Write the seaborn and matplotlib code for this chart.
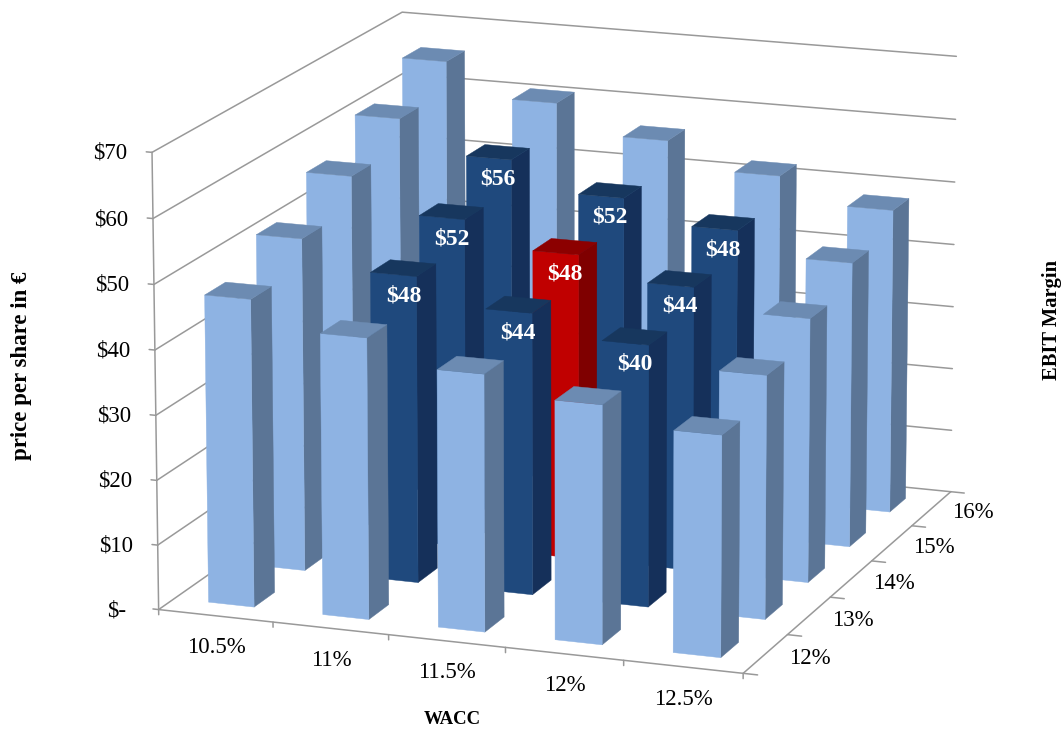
import numpy as np
import matplotlib
matplotlib.use("Agg")
import matplotlib.pyplot as plt
import seaborn as sns

# ---------- data ----------
wacc_labels = ["10.5%", "11%", "11.5%", "12%", "12.5%"]
ebit_labels = ["12%", "13%", "14%", "15%", "16%"]
z_ticks = [0, 10, 20, 30, 40, 50, 60, 70]
z_tick_labels = ["$-", "$10", "$20", "$30", "$40", "$50", "$60", "$70"]
price_ebit_12 = [47.4, 43.2, 39.4, 36.5, 33.7]
price_ebit_13 = [51.8, 47.6, 43.6, 40.4, 37.5]
price_ebit_14 = [56.8, 51.6, 47.7, 44.3, 41.1]
price_ebit_15 = [61.3, 56.3, 51.8, 48.3, 44.8]
price_ebit_16 = [66.0, 60.8, 56.3, 52.2, 48.3]
prices = [price_ebit_12, price_ebit_13, price_ebit_14, price_ebit_15, price_ebit_16]
labelled_wacc = [1, 2, 3]
labelled_ebit = [1, 2, 3]
base_case = (2, 2)

# ---------- style ----------
sns.set_theme(style="white")
plt.rcParams["font.family"] = ["Liberation Serif", "DejaVu Serif"]
LIGHT = ("#8EB3E3", "#6C8BB2", "#5B7596")
DARK = ("#1F497D", "#17375E", "#15305A")
RED = ("#C00000", "#8C0000", "#7F0000")
GRID = "#999999"
W, H = 1063, 731
BAR = 0.4

# camera calibration: box-corner / tick positions (x, y, z) seen at pixel (u, v)
cam_world = np.array([
    (0, 0, 0), (0, 0, 70), (0, 0, 10), (0, 0, 50), (0, 0, 60),
    (5, 0, 0), (1, 0, 0), (2, 0, 0), (3, 0, 0),
    (5, 5, 0), (5, 5, 70), (5, 5, 60), (5, 5, 50), (5, 5, 40), (5, 5, 30), (5, 5, 10),
    (0, 5, 70), (5, 1, 0), (5, 2, 0), (5, 3, 0), (5, 4, 0)], float)
cam_pixel = np.array([
    (160, 609), (152, 153), (157, 545), (154, 284), (153, 218),
    (743, 673), (273, 623), (388, 635), (505, 648),
    (950, 492), (956, 57), (956, 119), (955, 182), (954, 245), (953, 306), (952, 430),
    (402, 12), (788, 634), (830, 597), (872, 561), (912, 526)], float)


def solve_camera():
    T2 = np.diag([1 / 1000, 1 / 1000, 1.0])
    T3 = np.diag([1, 1, 1 / 14, 1.0])
    rows = []
    for (x, y, z), (u, v) in zip(cam_world, cam_pixel):
        X = np.array([x, y, z / 14, 1.0])
        u, v = u / 1000, (H - v) / 1000
        rows.append(np.r_[X, 0 * X, -u * X])
        rows.append(np.r_[0 * X, X, -v * X])
    P = np.linalg.svd(np.array(rows))[2][-1].reshape(3, 4)
    P = np.linalg.inv(T2) @ P @ T3
    return P / (P[2] @ np.array([2.5, 2.5, 35, 1.0]))


CAMERA = solve_camera()


def label(x, y, z, s, dx=0, dy=0, **kw):
    """Text placed at the picture position of a 3D point."""
    p = CAMERA @ np.array([x, y, z, 1.0])
    fig.text((p[0] / p[2] + dx) / W, (p[1] / p[2] + dy) / H, s, **kw)


fig = plt.figure(figsize=(W / 100, H / 100), dpi=100, facecolor="white")
ax = fig.add_axes([0, 0, 1, 1], projection="3d", computed_zorder=False)
ax.apply_aspect = lambda position=None: None
ax.set_axis_off()


def get_proj():
    P = ax.transData.inverted().get_matrix() @ CAMERA
    return np.vstack([P[0], P[1], [0, 0, 0, -1.0], P[2]])


ax.get_proj = get_proj

nx, ny = len(wacc_labels), len(ebit_labels)
top = z_ticks[-1]
line = dict(color=GRID, lw=1.1, zorder=1)
for z in z_ticks:
    ax.plot3D([0, 0, nx], [0, ny, ny], [z, z, z], **line)
    ax.plot3D([-0.05, 0], [0, 0], [z, z], **line)
ax.plot3D([0, 0], [0, 0], [0, top], **line)
ax.plot3D([0, nx, nx], [0, 0, ny], [0, 0, 0], **line)
for i in range(nx + 1):
    ax.plot3D([i, i], [0, 0], [0, -0.8], **line)
for j in range(ny + 1):
    ax.plot3D([nx, nx + 0.12], [j, j], [0, 0], **line)

clear = (0, 0, 0, 0)
order = 2
for j in range(ny - 1, -1, -1):
    for i in range(nx):
        if (i, j) == base_case:
            front, roof, side = RED
        elif i in labelled_wacc and j in labelled_ebit:
            front, roof, side = DARK
        else:
            front, roof, side = LIGHT
        faces = [clear, roof, front, clear, clear, side]
        ax.bar3d(i + 0.5 - BAR / 2, j + 0.5 - BAR / 2, 0, BAR, BAR, prices[j][i],
                 color=faces, edgecolor=faces, linewidth=0.3, shade=False, zorder=order)
        order += 1

for j in labelled_ebit:
    for i in labelled_wacc:
        label(i + 0.5, j + 0.5, prices[j][i] - 4.3, f"${prices[j][i]:.0f}",
              color="white", fontsize=17, fontweight="bold", ha="center", va="center")

tick_font = dict(fontsize=16.5, color="black", va="center")
for z, s in zip(z_ticks, z_tick_labels):
    label(0, 0, z, s, dx=-42, dy=-1, ha="center", **tick_font)
for i, s in enumerate(wacc_labels):
    label(i + 0.5, 0, -4.6, s, dy=-2, ha="center", **tick_font)
for j, s in enumerate(ebit_labels):
    label(nx + 0.37, j + 0.5, 0, s, ha="center", **tick_font)

title = dict(fontweight="bold", color="black", ha="center", va="center")
fig.text(22 / W, 1 - 366 / H, "price per share in €", rotation=90, fontsize=16.5, **title)
fig.text(1052 / W, 1 - 320 / H, "EBIT Margin", rotation=90, fontsize=14.8, **title)
fig.text(452 / W, 1 - 720 / H, "WACC", fontsize=13.5, **title)

fig.savefig("out.png", dpi=100, facecolor="white")
